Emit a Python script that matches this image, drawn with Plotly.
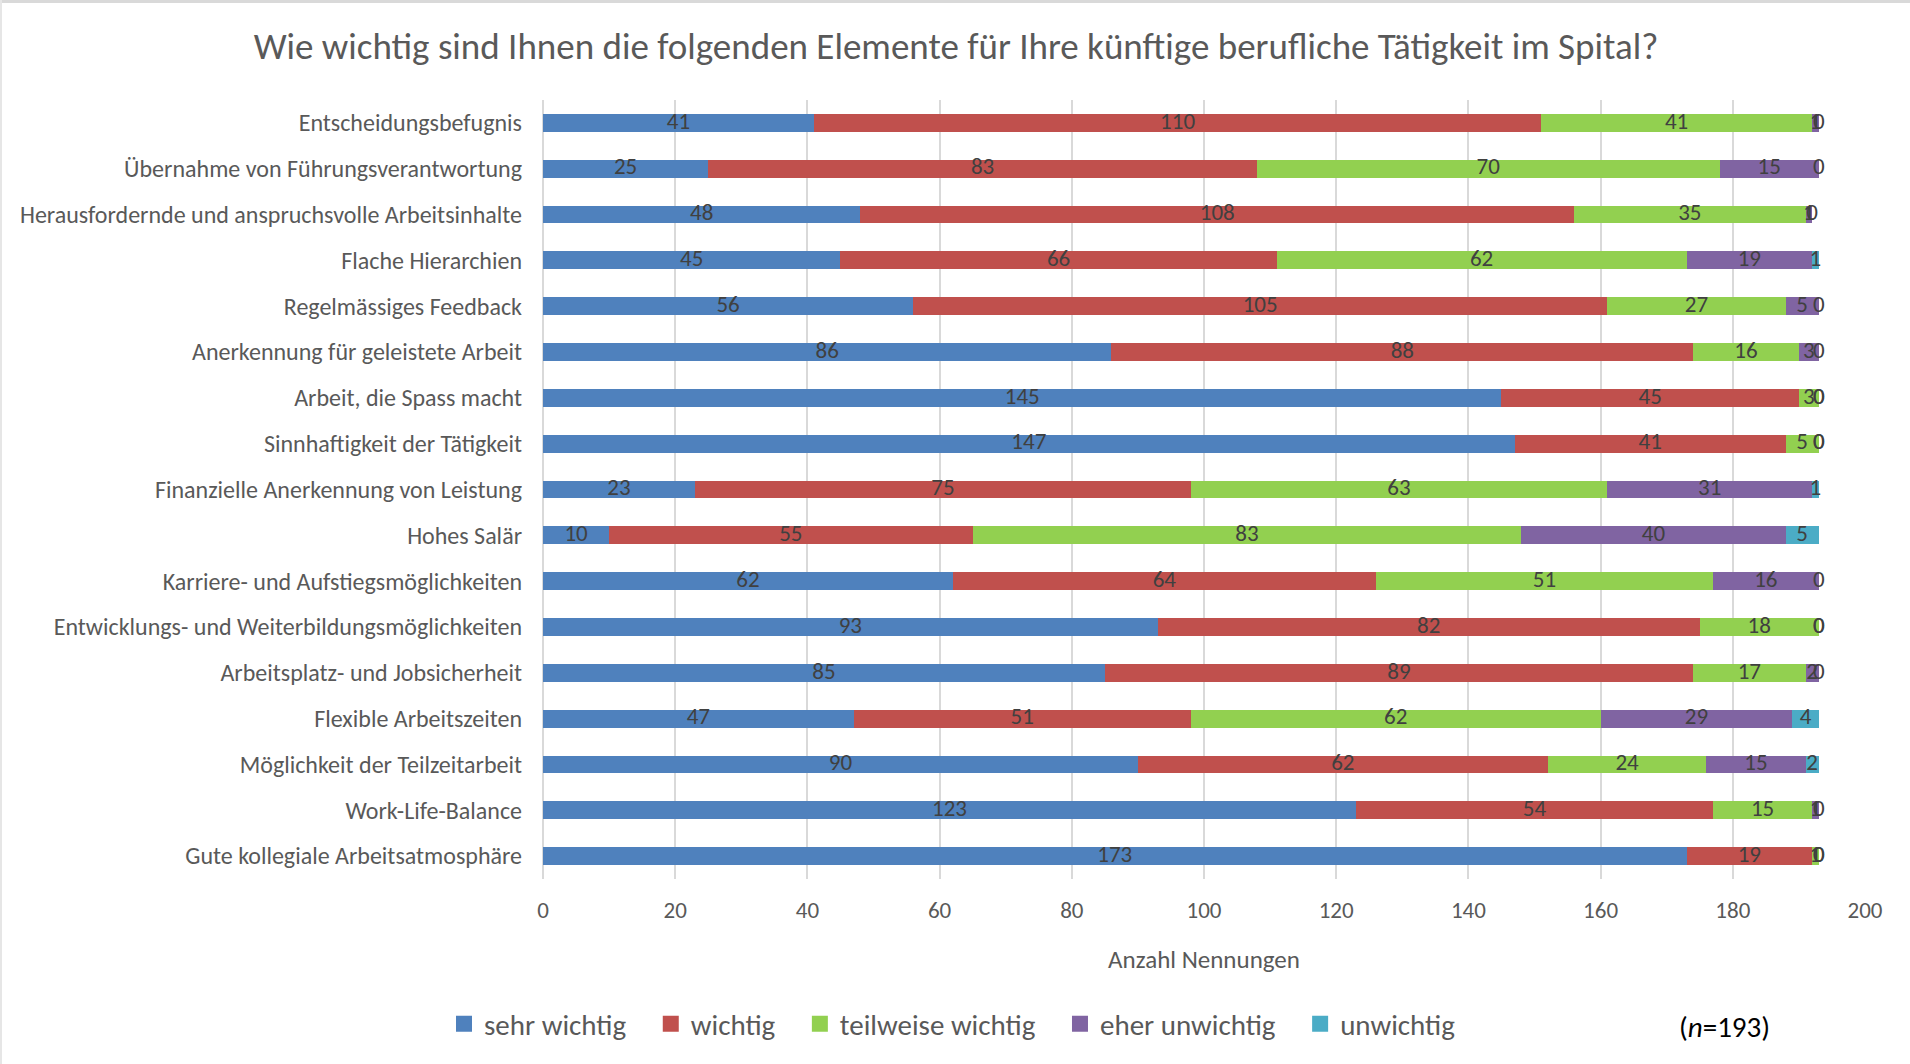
import plotly.graph_objects as go

# Survey categories (top to bottom as displayed)
categories = [
    "Entscheidungsbefugnis",
    "Übernahme von Führungsverantwortung",
    "Herausfordernde und anspruchsvolle Arbeitsinhalte",
    "Flache Hierarchien",
    "Regelmässiges Feedback",
    "Anerkennung für geleistete Arbeit",
    "Arbeit, die Spass macht",
    "Sinnhaftigkeit der Tätigkeit",
    "Finanzielle Anerkennung von Leistung",
    "Hohes Salär",
    "Karriere- und Aufstiegsmöglichkeiten",
    "Entwicklungs- und Weiterbildungsmöglichkeiten",
    "Arbeitsplatz- und Jobsicherheit",
    "Flexible Arbeitszeiten",
    "Möglichkeit der Teilzeitarbeit",
    "Work-Life-Balance",
    "Gute kollegiale Arbeitsatmosphäre",
]

sehr_wichtig = [41, 25, 48, 45, 56, 86, 145, 147, 23, 10, 62, 93, 85, 47, 90, 123, 173]
wichtig = [110, 83, 108, 66, 105, 88, 45, 41, 75, 55, 64, 82, 89, 51, 62, 54, 19]
teilweise_wichtig = [41, 70, 35, 62, 27, 16, 3, 5, 63, 83, 51, 18, 17, 62, 24, 15, 1]
eher_unwichtig = [1, 15, 1, 19, 5, 3, 0, 0, 31, 40, 16, 0, 2, 29, 15, 1, 0]
unwichtig = [0, 0, 0, 1, 0, 0, 0, 0, 1, 5, 0, 0, 0, 4, 2, 0, 0]

series_names = ["sehr wichtig", "wichtig", "teilweise wichtig", "eher unwichtig", "unwichtig"]
series_values = [sehr_wichtig, wichtig, teilweise_wichtig, eher_unwichtig, unwichtig]
series_colors = ["#4F81BD", "#C0504D", "#92D050", "#8064A2", "#4BACC6"]

x_ticks = [0, 20, 40, 60, 80, 100, 120, 140, 160, 180, 200]

FONT = "Carlito, Calibri, Lato, sans-serif"
W, H = 1910, 1064
ML, MR, MT, MB = 543, 45, 100, 185
LEGEND_PAD = "\u00a0" * 3  # extra room between legend entries

fig = go.Figure()

# Stacked bars
for name, vals, col in zip(series_names, series_values, series_colors):
    fig.add_trace(go.Bar(
        y=categories, x=vals, name=name, orientation="h",
        marker=dict(color=col, line=dict(width=0)),
        hovertemplate=name + ": %{x}<extra></extra>",
        showlegend=False, legendgroup=name,
    ))

# Legend entries with larger square keys
for name, col in zip(series_names, series_colors):
    fig.add_trace(go.Scatter(
        x=[None], y=[None], mode="markers", name=name + LEGEND_PAD,
        marker=dict(symbol="square", size=17, color=col, line=dict(width=0)),
        legendgroup=name, showlegend=True,
    ))

# Value labels centred on each segment (zero segments sit at the bar end)
cum = [0] * len(categories)
for vals in series_values:
    mids = [c + v / 2 for c, v in zip(cum, vals)]
    fig.add_trace(go.Scatter(
        y=categories, x=mids, mode="text",
        text=[str(v) for v in vals],
        textposition="middle center",
        textfont=dict(family=FONT, size=23, color="#404040"),
        showlegend=False, hoverinfo="skip", cliponaxis=False,
    ))
    cum = [c + v for c, v in zip(cum, vals)]

pw = W - ML - MR
ph = H - MT - MB

def px_x(p):
    return (p - ML) / pw

def px_y(p):
    return 1 - (p - MT) / ph

fig.update_layout(
    width=W, height=H,
    margin=dict(l=ML, r=MR, t=MT, b=MB, autoexpand=False),
    paper_bgcolor="white", plot_bgcolor="white",
    barmode="stack", bargap=0.61,
    font=dict(family=FONT, color="#595959"),
    title=dict(
        text="Wie wichtig sind Ihnen die folgenden Elemente für Ihre künftige berufliche Tätigkeit im Spital?",
        x=956 / W, xref="container", xanchor="center",
        y=1 - 46 / H, yref="container", yanchor="middle",
        font=dict(family=FONT, size=37, color="#595959"),
    ),
    xaxis=dict(
        range=[0, 200], tickvals=x_ticks, ticks="",
        showgrid=True, gridcolor="#D9D9D9", gridwidth=1.5,
        zeroline=True, zerolinecolor="#D9D9D9", zerolinewidth=1.5,
        showline=False, ticklabelstandoff=15,
        tickfont=dict(family=FONT, size=23, color="#595959"),
        title=dict(text="Anzahl Nennungen", standoff=27,
                   font=dict(family=FONT, size=25, color="#595959")),
        fixedrange=True,
    ),
    yaxis=dict(
        categoryorder="array", categoryarray=categories,
        range=[len(categories) - 0.5, -0.5],
        showgrid=False, ticks="", showline=False,
        ticklabelstandoff=20,
        tickfont=dict(family=FONT, size=24, color="#595959"),
        fixedrange=True,
    ),
    legend=dict(
        orientation="h", x=962 / W, xref="container", xanchor="center",
        y=1 - 1024 / H, yref="container", yanchor="middle",
        font=dict(family=FONT, size=29, color="#595959"),
        itemwidth=30, traceorder="normal", itemclick=False, itemdoubleclick=False,
    ),
    annotations=[dict(
        text="(<i>n</i>=193)", xref="paper", yref="paper",
        x=px_x(1724), y=px_y(1027), xanchor="center", yanchor="middle",
        showarrow=False, font=dict(family=FONT, size=29, color="#000000"),
    )],
    shapes=[
        dict(type="line", xref="paper", yref="paper", x0=px_x(0), x1=px_x(W),
             y0=px_y(1.5), y1=px_y(1.5), line=dict(color="#D9D9D9", width=3)),
        dict(type="line", xref="paper", yref="paper", x0=px_x(1), x1=px_x(1),
             y0=px_y(0), y1=px_y(H), line=dict(color="#E6E6E6", width=2)),
    ],
)

fig.write_html("out.html")
